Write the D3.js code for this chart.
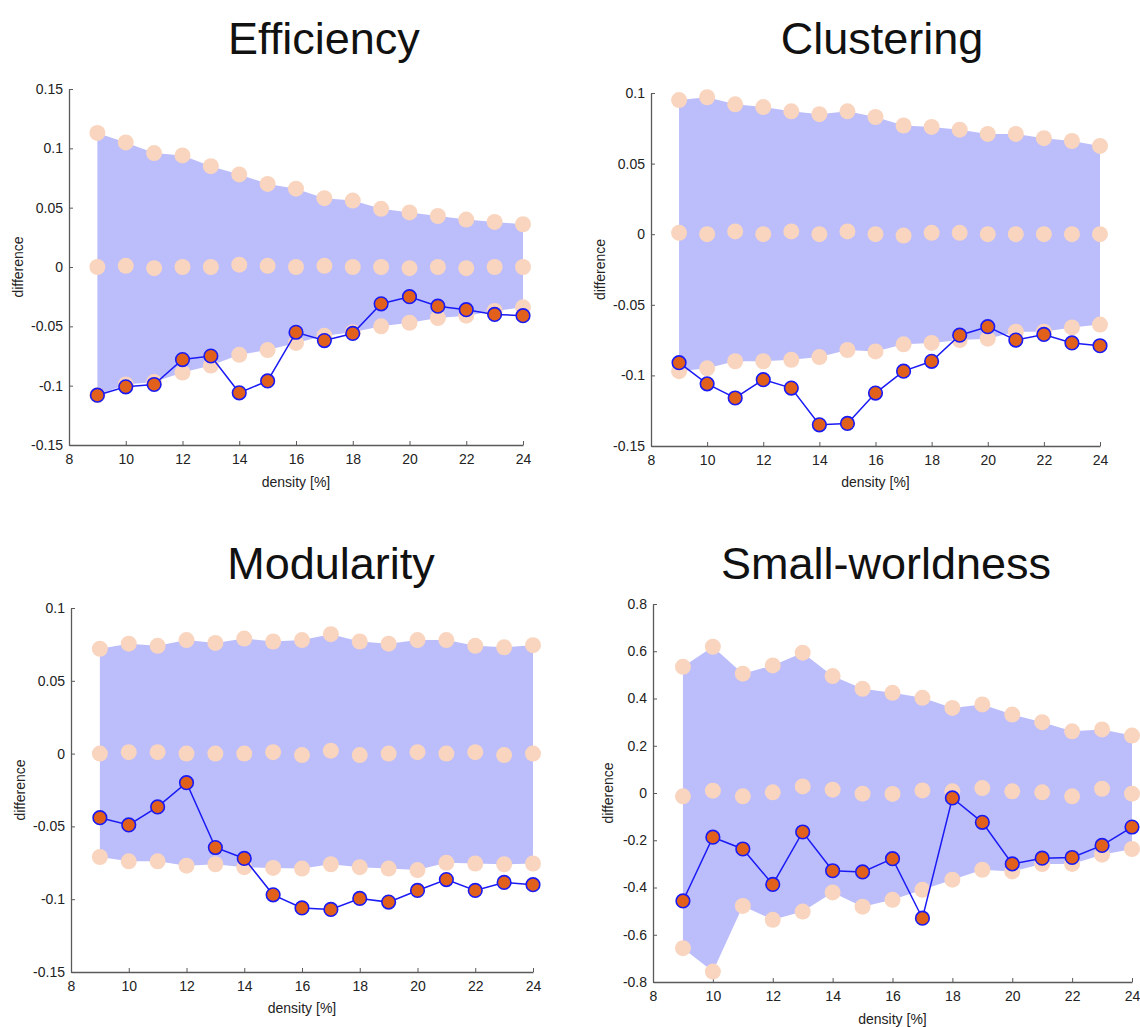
<!DOCTYPE html>
<html lang="en">
    <head>
        <meta charset="utf-8">
        <title>Network measures vs density</title>
        <script src="https://d3js.org/d3.v7.min.js"></script>
        <style type="text/css">
            body { margin: 0; background: #fff; }
            text { font-family: "Liberation Sans", Arial, Helvetica, sans-serif; }
        </style>
    </head>
    <body>
        <script type="text/javascript">

            //1. data
            const density = [9, 10, 11, 12, 13, 14, 15, 16, 17, 18, 19, 20, 21, 22, 23, 24];
            const xTicks = [8, 10, 12, 14, 16, 18, 20, 22, 24];

            // Efficiency
            const effUpper = [0.113, 0.105, 0.096, 0.094, 0.085, 0.078, 0.070, 0.066, 0.058, 0.056, 0.049, 0.046, 0.043, 0.040, 0.038, 0.036];
            const effZero  = [0.000, 0.001, -0.001, 0.000, 0.000, 0.002, 0.001, 0.000, 0.001, 0.000, 0.000, -0.001, 0.000, -0.001, 0.000, 0.000];
            const effLower = [-0.108, -0.099, -0.097, -0.089, -0.083, -0.074, -0.070, -0.064, -0.058, -0.055, -0.050, -0.047, -0.043, -0.041, -0.037, -0.034];
            const effObs   = [-0.108, -0.101, -0.099, -0.078, -0.075, -0.106, -0.096, -0.055, -0.062, -0.056, -0.031, -0.025, -0.033, -0.036, -0.040, -0.041];
            const effTicks = [-0.15, -0.1, -0.05, 0, 0.05, 0.1, 0.15];

            // Clustering
            const cluUpper = [0.095, 0.097, 0.092, 0.090, 0.087, 0.085, 0.087, 0.083, 0.077, 0.076, 0.074, 0.071, 0.071, 0.068, 0.066, 0.0625];
            const cluZero  = [0.001, 0.000, 0.002, 0.000, 0.002, 0.000, 0.002, 0.000, -0.001, 0.001, 0.001, 0.000, 0.000, 0.000, 0.000, 0.000];
            const cluLower = [-0.097, -0.095, -0.090, -0.090, -0.089, -0.087, -0.082, -0.083, -0.078, -0.077, -0.075, -0.074, -0.069, -0.069, -0.066, -0.064];
            const cluObs   = [-0.091, -0.106, -0.116, -0.103, -0.109, -0.135, -0.134, -0.1125, -0.097, -0.090, -0.0715, -0.0655, -0.075, -0.071, -0.077, -0.079];
            const cluTicks = [-0.15, -0.1, -0.05, 0, 0.05, 0.1];

            // Modularity
            const modUpper = [0.072, 0.0755, 0.074, 0.078, 0.076, 0.079, 0.077, 0.078, 0.082, 0.077, 0.0755, 0.078, 0.078, 0.074, 0.073, 0.0745];
            const modZero  = [0.000, 0.001, 0.001, 0.000, 0.000, 0.000, 0.001, -0.001, 0.002, -0.001, 0.000, 0.001, 0.000, 0.001, -0.001, 0.000];
            const modLower = [-0.071, -0.074, -0.074, -0.077, -0.076, -0.078, -0.0785, -0.079, -0.076, -0.078, -0.079, -0.080, -0.075, -0.0755, -0.076, -0.0755];
            const modObs   = [-0.044, -0.049, -0.0366, -0.020, -0.0645, -0.072, -0.097, -0.106, -0.107, -0.0995, -0.102, -0.094, -0.0865, -0.094, -0.0885, -0.090];
            const modTicks = [-0.15, -0.1, -0.05, 0, 0.05, 0.1];

            // Small-worldness
            const swUpper = [0.534, 0.619, 0.505, 0.540, 0.594, 0.495, 0.441, 0.424, 0.403, 0.360, 0.375, 0.332, 0.300, 0.261, 0.269, 0.243];
            const swZero  = [-0.014, 0.010, -0.014, 0.003, 0.028, 0.014, -0.003, -0.004, 0.011, 0.007, 0.021, 0.007, 0.003, -0.014, 0.018, -0.003];
            const swLower = [-0.657, -0.756, -0.478, -0.537, -0.502, -0.421, -0.481, -0.452, -0.410, -0.367, -0.325, -0.332, -0.301, -0.300, -0.261, -0.237];
            const swObs   = [-0.457, -0.187, -0.237, -0.387, -0.165, -0.329, -0.334, -0.278, -0.530, -0.021, -0.124, -0.300, -0.276, -0.273, -0.222, -0.144];
            const swTicks = [-0.8, -0.6, -0.4, -0.2, 0, 0.2, 0.4, 0.6, 0.8];

            //2. layout of the four panels
            const svgWidth = 1140;
            const svgHeight = 1027;

            const panels = [
                {title: "Efficiency", upper: effUpper, zero: effZero, lower: effLower, obs: effObs, ticks: effTicks,
                 yDomain: [-0.15, 0.15], x0: 69, x1: 523, yTop: 89, yBot: 445, titleX: 324, titleY: 54, yLabX: 18, xLabY: 487},
                {title: "Clustering", upper: cluUpper, zero: cluZero, lower: cluLower, obs: cluObs, ticks: cluTicks,
                 yDomain: [-0.15, 0.1], x0: 651, x1: 1100, yTop: 93, yBot: 446, titleX: 882, titleY: 54, yLabX: 600, xLabY: 487},
                {title: "Modularity", upper: modUpper, zero: modZero, lower: modLower, obs: modObs, ticks: modTicks,
                 yDomain: [-0.15, 0.1], x0: 71, x1: 533, yTop: 608, yBot: 972, titleX: 331, titleY: 579, yLabX: 20, xLabY: 1013},
                {title: "Small-worldness", upper: swUpper, zero: swZero, lower: swLower, obs: swObs, ticks: swTicks,
                 yDomain: [-0.8, 0.8], x0: 653, x1: 1132, yTop: 604, yBot: 982, titleX: 886, titleY: 579, yLabX: 608, xLabY: 1024}
            ];

            const bandColor = "#bcbdfb";
            const peach = "#f9d5bf";
            const lineBlue = "#1a1af5";
            const orange = "#e0601c";
            const axisGray = "#5a5a5a";

            //3. svg
            const svg = d3.select("body")
                        .append("svg")
                        .attr("width", svgWidth)
                        .attr("height", svgHeight);

            panels.forEach(function(p) {
                const g = svg.append("g");

                const xScale = d3.scaleLinear()
                                .domain([8, 24])
                                .range([p.x0, p.x1]);

                const yScale = d3.scaleLinear()
                                .domain(p.yDomain)
                                .range([p.yBot, p.yTop]);

                // axes first (drawn under the data)
                const bottomAxis = d3.axisBottom(xScale)
                                    .tickValues(xTicks)
                                    .tickSizeInner(-4)
                                    .tickSizeOuter(0)
                                    .tickPadding(9);

                const leftAxis = d3.axisLeft(yScale)
                                    .tickValues(p.ticks)
                                    .tickFormat(d => String(d))
                                    .tickSizeInner(-4)
                                    .tickSizeOuter(0)
                                    .tickPadding(6);

                const gx = g.append("g")
                    .attr("transform", "translate(0," + p.yBot + ")")
                    .call(bottomAxis);

                const gy = g.append("g")
                    .attr("transform", "translate(" + p.x0 + ",0)")
                    .call(leftAxis);

                [gx, gy].forEach(function(a) {
                    a.select(".domain").attr("stroke", axisGray).attr("stroke-width", 1.3);
                    a.selectAll(".tick line").attr("stroke", axisGray);
                    a.selectAll(".tick text")
                        .attr("fill", "#222")
                        .attr("font-size", "14px")
                        .attr("font-family", "Liberation Sans, Arial, sans-serif");
                });

                // shaded band between the upper and lower bounds
                const bandData = density.map((d, i) => ({x: d, lo: p.lower[i], hi: p.upper[i]}));
                const area = d3.area()
                                .x(d => xScale(d.x))
                                .y0(d => yScale(d.lo))
                                .y1(d => yScale(d.hi));

                g.append("path")
                    .datum(bandData)
                    .attr("d", area)
                    .attr("fill", bandColor);

                // peach dots: upper, null, lower
                [p.upper, p.zero, p.lower].forEach(function(series) {
                    g.append("g")
                        .selectAll("circle")
                        .data(series)
                        .enter()
                        .append("circle")
                        .attr("cx", (d, i) => xScale(density[i]))
                        .attr("cy", d => yScale(d))
                        .attr("r", 8)
                        .attr("fill", peach);
                });

                // observed line + markers
                const line = d3.line()
                                .x((d, i) => xScale(density[i]))
                                .y(d => yScale(d));

                g.append("path")
                    .datum(p.obs)
                    .attr("d", line)
                    .attr("fill", "none")
                    .attr("stroke", lineBlue)
                    .attr("stroke-width", 1.5);

                g.append("g")
                    .selectAll("circle")
                    .data(p.obs)
                    .enter()
                    .append("circle")
                    .attr("cx", (d, i) => xScale(density[i]))
                    .attr("cy", d => yScale(d))
                    .attr("r", 6.8)
                    .attr("fill", orange)
                    .attr("stroke", lineBlue)
                    .attr("stroke-width", 1.6);

                // titles and axis labels
                g.append("text")
                    .text(p.title)
                    .attr("x", p.titleX)
                    .attr("y", p.titleY)
                    .attr("text-anchor", "middle")
                    .attr("font-size", "45px")
                    .attr("fill", "#111");

                g.append("text")
                    .text("density [%]")
                    .attr("x", (p.x0 + p.x1) / 2)
                    .attr("y", p.xLabY)
                    .attr("text-anchor", "middle")
                    .attr("font-size", "14px")
                    .attr("fill", "#222");

                g.append("text")
                    .text("difference")
                    .attr("transform", "translate(" + p.yLabX + "," + ((p.yTop + p.yBot) / 2) + ") rotate(-90)")
                    .attr("text-anchor", "middle")
                    .attr("dominant-baseline", "central")
                    .attr("font-size", "14px")
                    .attr("fill", "#222");
            });

        </script>
    </body>
</html>
